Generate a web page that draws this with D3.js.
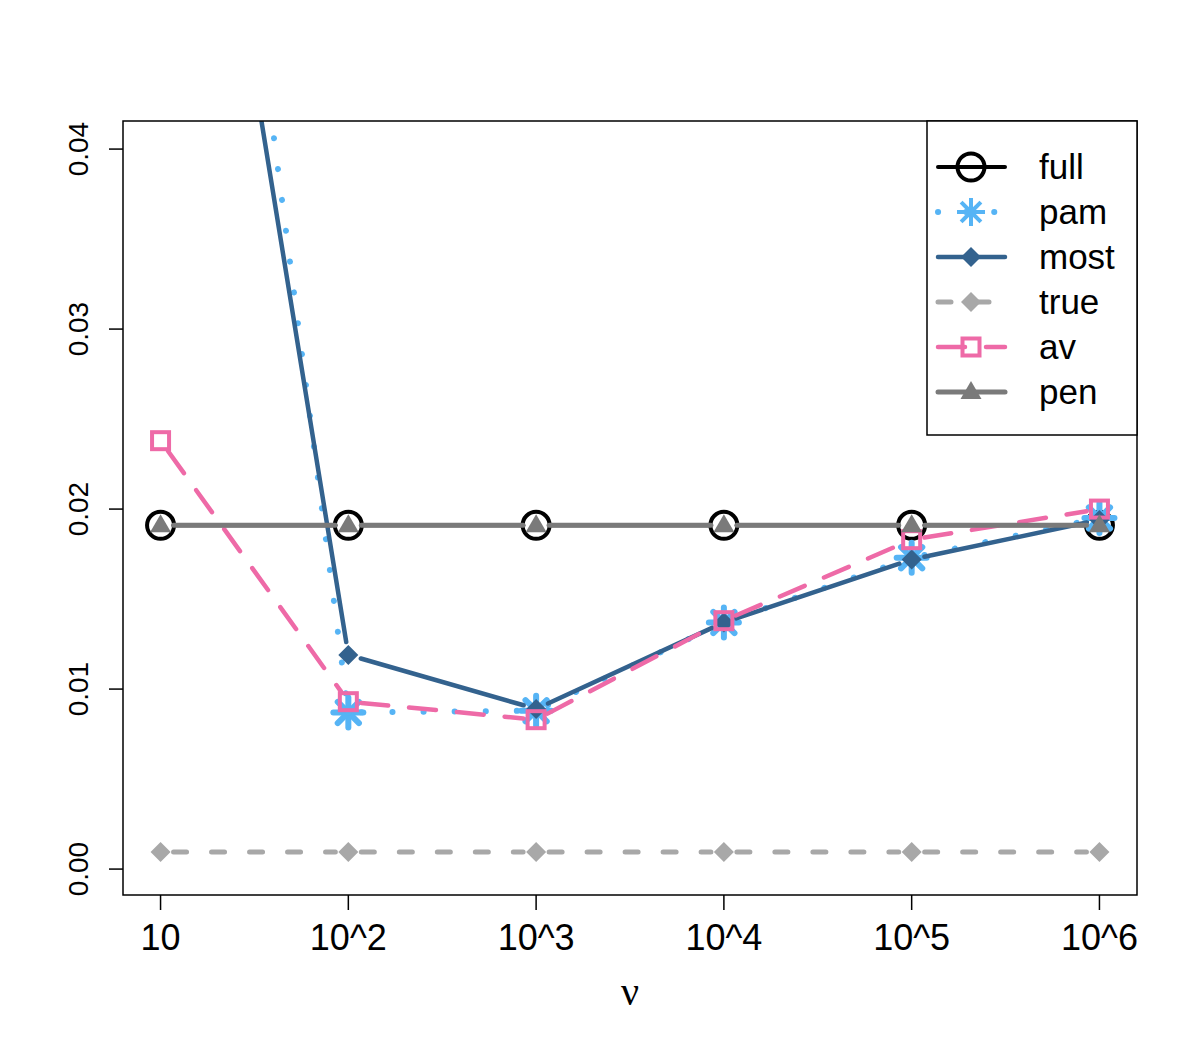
<!DOCTYPE html>
<html>
<head>
<meta charset="utf-8">
<script src="https://cdn.jsdelivr.net/npm/d3@7"></script>
<style>
  body { margin: 0; background: #fff; }
  text { font-family: "Liberation Sans", Arial, sans-serif; }
</style>
</head>
<body>
<div id="container"></div>
<script>
// values
const xLabels = ["10", "10^2", "10^3", "10^4", "10^5", "10^6"];
const full  = [0.0191, 0.0191, 0.0191, 0.0191, 0.0191, 0.0191];
const pam   = [0.0893, 0.0087, 0.0088, 0.0137, 0.0173, 0.0195];
const most  = [0.0760, 0.0119, 0.0089, 0.0137, 0.0172, 0.0194];
const truth = [0.00095, 0.00095, 0.00095, 0.00095, 0.00095, 0.00095];
const av    = [0.0238, 0.0093, 0.0083, 0.0138, 0.0183, 0.0200];
const pen   = [0.0191, 0.0191, 0.0191, 0.0191, 0.0191, 0.0191];
const yTicks = [0, 0.01, 0.02, 0.03, 0.04];

const W = 1198, H = 1048;
const mLeft = 123, mRight = 1137, mTop = 121, mBottom = 895;

const x = d3.scaleLinear().domain([0.8, 6.2]).range([mLeft, mRight]);
const y = d3.scaleLinear().domain([-0.00144, 0.04156]).range([mBottom, mTop]);

const series = [
  { name: "full", values: full,  color: "#000000", dash: null,     lw: 4,   pch: "circle" },
  { name: "pam",  values: pam,   color: "#56B4F5", dash: "0.1 31", lw: 6,   pch: "star" },
  { name: "most", values: most,  color: "#33628E", dash: null,     lw: 4.5, pch: "diamond" },
  { name: "true", values: truth, color: "#A8A8A8", dash: "13 25",  lw: 5,   pch: "diamond" },
  { name: "av",   values: av,    color: "#EE6AA7", dash: "27 21",  lw: 4.5, pch: "square" },
  { name: "pen",  values: pen,   color: "#7A7A7A", dash: null,     lw: 5,   pch: "triangle" }
];

const svg = d3.create("svg").attr("width", W).attr("height", H);

svg.append("defs").append("clipPath").attr("id", "plotclip")
  .append("rect").attr("x", mLeft).attr("y", mTop)
  .attr("width", mRight - mLeft).attr("height", mBottom - mTop);

function drawSymbol(g, pch, cx, cy, color, big) {
  if (pch === "circle") {
    g.append("circle").attr("cx", cx).attr("cy", cy).attr("r", 13.5)
      .attr("fill", "none").attr("stroke", color).attr("stroke-width", 4);
  } else if (pch === "star") {
    const r = big ? 15 : 14;
    for (let k = 0; k < 8; k++) {
      const a = k * Math.PI / 4;
      g.append("line").attr("x1", cx).attr("y1", cy)
        .attr("x2", cx + r * Math.cos(a)).attr("y2", cy + r * Math.sin(a))
        .attr("stroke", color).attr("stroke-width", big ? 6 : 4)
        .attr("stroke-linecap", big ? "round" : "butt");
    }
  } else if (pch === "diamond") {
    const r = 10;
    g.append("path").attr("d", `M${cx},${cy - r}L${cx + r},${cy}L${cx},${cy + r}L${cx - r},${cy}Z`)
      .attr("fill", color);
  } else if (pch === "square") {
    g.append("rect").attr("x", cx - 8.5).attr("y", cy - 8.5).attr("width", 17).attr("height", 17)
      .attr("fill", "none").attr("stroke", color).attr("stroke-width", 4);
  } else if (pch === "triangle") {
    g.append("path").attr("d", `M${cx},${cy - 11}L${cx + 10.5},${cy + 7}L${cx - 10.5},${cy + 7}Z`)
      .attr("fill", color);
  }
}

const plot = svg.append("g").attr("clip-path", "url(#plotclip)");
const gap = 13;

series.forEach(s => {
  const pts = s.values.map((v, i) => [x(i + 1), y(v)]);
  const g = plot.append("g");
  // type="b": segments with a gap around each point
  for (let i = 0; i < pts.length - 1; i++) {
    const [x0, y0] = pts[i], [x1, y1] = pts[i + 1];
    const len = Math.hypot(x1 - x0, y1 - y0);
    if (len <= 2 * gap) continue;
    const ux = (x1 - x0) / len, uy = (y1 - y0) / len;
    g.append("line")
      .attr("x1", x0 + ux * gap).attr("y1", y0 + uy * gap)
      .attr("x2", x1 - ux * gap).attr("y2", y1 - uy * gap)
      .attr("stroke", s.color).attr("stroke-width", s.lw)
      .attr("stroke-linecap", "round")
      .attr("stroke-dasharray", s.dash);
  }
  pts.forEach(p => drawSymbol(g, s.pch, p[0], p[1], s.color, true));
});

// frame
svg.append("rect").attr("x", mLeft).attr("y", mTop)
  .attr("width", mRight - mLeft).attr("height", mBottom - mTop)
  .attr("fill", "none").attr("stroke", "#000").attr("stroke-width", 1.5);

// x axis
const xAxis = svg.append("g");
xLabels.forEach((lab, i) => {
  const xx = x(i + 1);
  xAxis.append("line").attr("x1", xx).attr("x2", xx).attr("y1", mBottom).attr("y2", mBottom + 15)
    .attr("stroke", "#000").attr("stroke-width", 1.5);
  xAxis.append("text").attr("x", xx).attr("y", 950).attr("text-anchor", "middle")
    .attr("font-size", 36).text(lab);
});

// y axis
const yAxis = svg.append("g");
yTicks.forEach(t => {
  const yy = y(t);
  yAxis.append("line").attr("x1", mLeft).attr("x2", mLeft - 14).attr("y1", yy).attr("y2", yy)
    .attr("stroke", "#000").attr("stroke-width", 1.5);
  yAxis.append("text")
    .attr("transform", `translate(88,${yy}) rotate(-90)`)
    .attr("text-anchor", "middle").attr("font-size", 28).text(t.toFixed(2));
});

// x label
svg.append("text").attr("x", (mLeft + mRight) / 2).attr("y", 1005)
  .attr("text-anchor", "middle").attr("font-size", 40)
  .style("font-family", "'Liberation Serif', 'DejaVu Serif', serif").text("ν");

// legend
const leg = svg.append("g");
leg.append("rect").attr("x", 927).attr("y", mTop).attr("width", mRight - 927).attr("height", 435 - mTop)
  .attr("fill", "#fff").attr("stroke", "#000").attr("stroke-width", 1.5);
series.forEach((s, i) => {
  const yy = 167 + i * 45;
  leg.append("line").attr("x1", 938).attr("x2", 1005).attr("y1", yy).attr("y2", yy)
    .attr("stroke", s.color).attr("stroke-width", s.lw)
    .attr("stroke-linecap", "round")
    .attr("stroke-dasharray", s.name === "pam" ? "0.1 28" : s.dash);
  drawSymbol(leg, s.pch, 971, yy, s.color, false);
  leg.append("text").attr("x", 1039).attr("y", yy + 12).attr("font-size", 35).text(s.name);
});

document.getElementById("container").append(svg.node());
</script>
</body>
</html>
